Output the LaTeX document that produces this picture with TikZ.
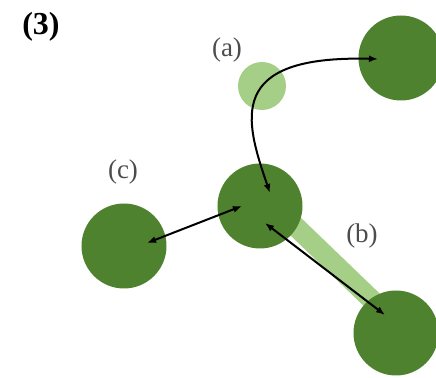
\documentclass[tikz,border=0pt]{standalone}
\usepackage{fontspec}
\setmainfont{Liberation Serif}
\usepackage{xcolor}
\usetikzlibrary{arrows.meta}

\definecolor{leafdark}{RGB}{78,130,46}
\definecolor{leaflight}{RGB}{165,207,135}

\begin{document}
\begin{tikzpicture}[x=0.5pt, y=-0.5pt, font=\fontsize{13.5}{15}\selectfont,
  atom/.style={circle, fill=leafdark, inner sep=0pt, minimum size=42.5pt},
  ghost/.style={circle, fill=leaflight, inner sep=0pt, minimum size=24pt},
  hop/.style={black, line width=1pt, {Latex[length=4.5pt,width=3.5pt]}-{Latex[length=4.5pt,width=3.5pt]}},
  tag/.style={text=black!70}]
\useasboundingbox (0,0) rectangle (436,378);

% PANEL LABEL
  \node[font=\fontsize{16}{18}\selectfont\bfseries] (num) at (41,27) {(3)};

% TRACE (b)
  \coordinate (bandstart) at (268,200);
  \coordinate (bandend) at (398,325);
  \draw[leaflight, line width=10pt] (bandstart) -- (bandend);

% ATOMS
  \node[atom] (hub)  at (260,206) {};
  \node[atom] (far)  at (401,58)  {};
  \node[atom] (left) at (124,246) {};
  \node[atom] (low)  at (396,333) {};

% TRACE (a)
  \node[ghost] (trace) at (262,86) {};

% LABELS
  \node[tag] (la) at (227,50)  {(a)};
  \node[tag] (lb) at (362,236) {(b)};
  \node[tag] (lc) at (123,172) {(c)};

% HOPS
  \draw[hop] ([shift={(10,-13)}]hub.center) .. controls (245,120) and (225,55) .. ([shift={(-23,1)}]far.center);
  \draw[hop] ([shift={(-18,0)}]hub.center) -- ([shift={(23,-3)}]left.center);
  \draw[hop] ([shift={(5,17)}]hub.center) -- ([shift={(-11,-18)}]low.center);

\end{tikzpicture}
\end{document}
